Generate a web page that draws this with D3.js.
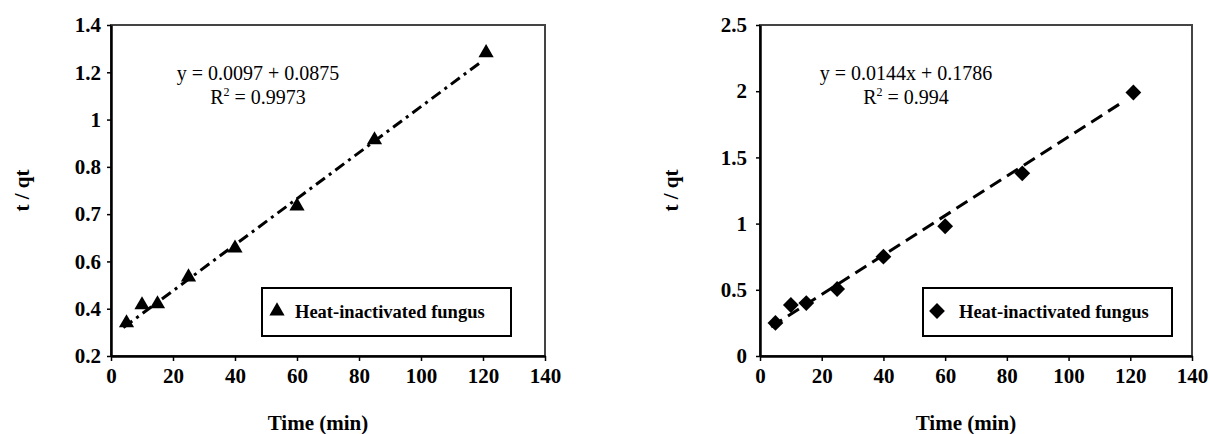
<!DOCTYPE html>
<html>
<head>
<meta charset="utf-8">
<script src="https://cdn.jsdelivr.net/npm/d3@7"></script>
<style>
  body { margin: 0; background: #fff; }
  text { font-family: "Liberation Serif", "Times New Roman", serif; }
</style>
</head>
<body>
<div id="container"></div>
<script>
/* DATA */
const times = [5, 10, 15, 25, 40, 60, 85, 121]
const leftValues = [0.34, 0.416, 0.42, 0.534, 0.628, 0.717, 0.914, 1.282]
const rightValues = [0.25, 0.385, 0.40, 0.506, 0.75, 0.98, 1.38, 1.99]
const leftTrend = [[4, 0.32], [119, 1.24]]
const rightTrend = [[3.6, 0.22], [117, 1.91]]
const xTicks = [0, 20, 40, 60, 80, 100, 120, 140]
const leftYTicks = [0.2, 0.4, 0.6, 0.7, 0.8, 1, 1.2, 1.4]
const rightYTicks = [0, 0.5, 1, 1.5, 2, 2.5]
const legendLabel = "Heat-inactivated fungus"

/* SVG */
const svg = d3.select("#container")
  .append("svg")
    .attr("width", 1210)
    .attr("height", 434)

function drawPanel(opt) {
  const width = opt.width, height = opt.height
  const g = svg.append("g")
    .attr("transform", "translate(" + opt.left + "," + opt.top + ")")

  const xScale = d3.scaleLinear().domain([0, 140]).range([0, width])
  const yScale = opt.yScale(height)

  // frame
  g.append("rect")
    .attr("width", width).attr("height", height)
    .attr("fill", "none").attr("stroke", "#444").attr("stroke-width", 2)

  // axes
  const xAxis = g.append("g")
    .attr("transform", "translate(0," + height + ")")
    .call(d3.axisBottom(xScale).tickValues(xTicks).tickSize(5).tickPadding(7).tickSizeOuter(0))
  const yAxis = g.append("g")
    .call(d3.axisLeft(yScale).tickValues(opt.yTicks).tickFormat(d3.format("")).tickSize(4).tickPadding(opt.yPad).tickSizeOuter(0))
  ;[xAxis, yAxis].forEach(a => {
    a.select(".domain").attr("stroke", "#000").attr("stroke-width", 2.5)
    a.selectAll(".tick line").attr("stroke", "#000").attr("stroke-width", 1.5)
    a.selectAll(".tick text")
      .attr("fill", "#000")
      .style("font-size", "21px")
      .style("font-weight", "bold")
  })

  // trend line
  const line = d3.line()
    .x(d => xScale(d[0]))
    .y(d => yScale(d[1]))
  g.append("path")
    .datum(opt.trend)
    .attr("d", line)
    .attr("fill", "none")
    .attr("stroke", "#000")
    .attr("stroke-width", 3)
    .attr("stroke-dasharray", opt.dash)

  // points
  const sym = d3.symbol().type(opt.symbol).size(opt.symbolSize)
  g.selectAll(".pt")
    .data(times.map((t, i) => [t, opt.values[i]]))
    .join("path")
    .attr("class", "pt")
    .attr("d", sym)
    .attr("fill", "#000")
    .attr("transform", d => "translate(" + xScale(d[0]) + "," + yScale(d[1]) + ")" + opt.rotate)

  // equation
  g.append("text")
    .attr("text-anchor", "middle")
    .attr("x", opt.eqX).attr("y", 55)
    .style("font-size", "20px")
    .text(opt.eq)
  const r2 = g.append("text")
    .attr("text-anchor", "middle")
    .attr("x", opt.eqX).attr("y", 79)
    .style("font-size", "20px")
  r2.append("tspan").text("R")
  r2.append("tspan").attr("dy", -8).style("font-size", "12px").text("2")
  r2.append("tspan").attr("dy", 8).text(" = " + opt.r2)

  // legend
  const lg = g.append("g").attr("transform", "translate(" + opt.legX + ",263)")
  lg.append("rect")
    .attr("width", 249).attr("height", 48)
    .attr("fill", "#fff").attr("stroke", "#000").attr("stroke-width", 2)
  lg.append("path")
    .attr("d", sym)
    .attr("fill", "#000")
    .attr("transform", "translate(" + opt.legMarkX + ",23)" + opt.rotate)
  lg.append("text")
    .attr("x", opt.legTextX).attr("y", 30)
    .style("font-size", "18.5px").style("font-weight", "bold")
    .text(legendLabel)

  // axis titles
  g.append("text")
    .attr("text-anchor", "middle")
    .attr("x", width / 2 - 10).attr("y", height + 74)
    .style("font-size", "21px").style("font-weight", "bold")
    .text("Time (min)")
  g.append("text")
    .attr("text-anchor", "middle")
    .attr("transform", "translate(" + (-82) + "," + (height / 2) + ") rotate(-90)")
    .style("font-size", "21px").style("font-weight", "bold")
    .text("t / qt")
}

drawPanel({
  left: 111, top: 25, width: 434, height: 331,
  yScale: h => d3.scaleLinear().domain(leftYTicks).range(leftYTicks.map((d, i) => h - i * h / (leftYTicks.length - 1))),
  yTicks: leftYTicks, yPad: 6,
  values: leftValues, trend: leftTrend,
  dash: "11,5,3,5",
  symbol: d3.symbolTriangle, symbolSize: 100, rotate: "",
  eq: "y = 0.0097 + 0.0875", r2: "0.9973", eqX: 147,
  legX: 151, legMarkX: 15, legTextX: 33
})

drawPanel({
  left: 760, top: 25, width: 432, height: 331,
  yScale: h => d3.scaleLinear().domain([0, 2.5]).range([h, 0]),
  yTicks: rightYTicks, yPad: 9,
  values: rightValues, trend: rightTrend,
  dash: "13,7",
  symbol: d3.symbolSquare, symbolSize: 125, rotate: " rotate(45)",
  eq: "y = 0.0144x + 0.1786", r2: "0.994", eqX: 146,
  legX: 163, legMarkX: 14, legTextX: 36
})
</script>
</body>
</html>
